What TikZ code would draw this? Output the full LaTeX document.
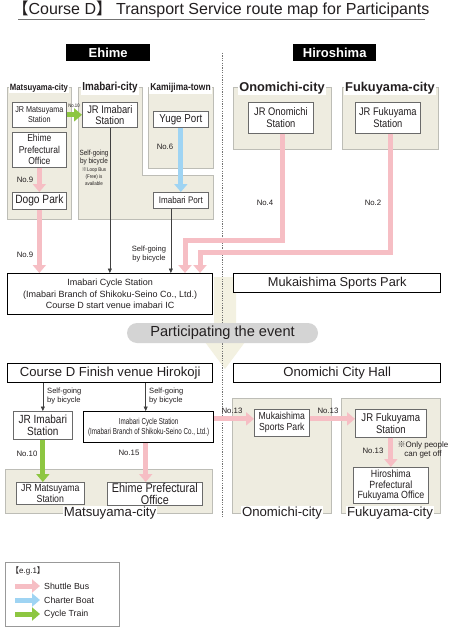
\documentclass[tikz,border=0pt]{standalone}
\usepackage{fontspec}
\setmainfont[FakeStretch=0.85]{Liberation Sans}
\newfontfamily\xcond[FakeStretch=0.72]{Liberation Sans}
\newfontfamily\wide{Liberation Sans}
\newfontfamily\cjk{Noto Sans CJK JP}
\usetikzlibrary{arrows.meta}
\definecolor{beige}{HTML}{EEECE0}
\definecolor{grpline}{HTML}{BDBDB6}
\definecolor{pinkc}{HTML}{F6BEC4}
\definecolor{bluec}{HTML}{9FD4F3}
\definecolor{greenc}{HTML}{8DC641}
\definecolor{boxline}{HTML}{6A6A6A}
\definecolor{pale}{HTML}{F3F1E1}
\definecolor{pillc}{HTML}{D4D4D4}
\definecolor{txt}{HTML}{231F20}
\begin{document}
\begin{tikzpicture}[x=1pt,y=-1pt,
  every node/.style={text=txt},
  box/.style={draw=boxline, fill=white, line width=0.7pt, align=center, inner sep=1pt, anchor=north west},
  mainbox/.style={draw=black, fill=white, line width=1.4pt, align=center, inner sep=1pt, anchor=north west},
  grp/.style={fill=beige, draw=grpline, line width=0.9pt},
  glabel/.style={fill=white, inner sep=1.2pt, font=\bfseries\fontsize{#1}{#1}\selectfont},
  glabel/.default=10,
  wlabel/.style={fill=white, inner sep=1.2pt, font=\wide\bfseries\fontsize{#1}{#1}\selectfont},
  blabel/.style={fill=white, inner sep=1.2pt, font=\wide\fontsize{#1}{#1}\selectfont},
  lbl/.style={inner sep=0pt, font=\wide\fontsize{7.8}{8}\selectfont},
  small/.style={inner sep=0pt, align=center, font=\wide\fontsize{7.6}{8.4}\selectfont},
  pinkarrow/.style={draw=pinkc, line width=5pt, -{Triangle[width=13pt,length=8pt]}},
  bluearrow/.style={draw=bluec, line width=5pt, -{Triangle[width=13pt,length=8pt]}},
  greenarrow/.style={draw=greenc, line width=5pt, -{Triangle[width=13pt,length=8pt]}},
  thinarrow/.style={draw=black!75, line width=0.6pt, -{Triangle[width=4pt,length=4.5pt]}},
  header/.style={fill=black, inner sep=0pt, text=white, font=\wide\bfseries\fontsize{13}{13}\selectfont, anchor=north west}
]
\path[fill=white] (0,0) rectangle (450,634);
\useasboundingbox (0,0) rectangle (450,634);

% title
\node[inner sep=0pt, font=\wide\fontsize{16}{17}\selectfont] (title) at (221,9) {{\cjk 【}Course D{\cjk 】}\hspace{4pt}Transport Service route map for Participants};
\draw[draw=black!55, line width=0.8pt] (18,19.5) -- (425,19.5);

% headers
\node[header, minimum width=84pt, minimum height=17pt] (ehime) at (66,44) {Ehime};
\node[header, minimum width=83pt, minimum height=17pt] (hiro) at (293,44) {Hiroshima};

% pale big arrow
\path[fill=pale] (214,277) -- (236,277) -- (236,338) -- (248,338) -- (225,369) -- (202,338) -- (214,338) -- cycle;

% dotted divider
\draw[draw=black!55, line width=1pt, dash pattern=on 1.2pt off 1.2pt] (222.5,53) -- (222.5,518);

% ---------- top groups ----------
\draw[grp] (7,87) rectangle (71,219);
\node[glabel=9.1] (gmat) at (39,88) {Matsuyama-city};
\draw[grp] (78,87) -- (142,87) -- (142,175) -- (213,175) -- (213,219) -- (78,219) -- cycle;
\node[glabel=11.6] (gima) at (110,88) {Imabari-city};
\draw[grp] (148,87) rectangle (213,168);
\node[glabel=10] (gkam) at (180.5,88) {Kamijima-town};
\draw[grp] (233,87) rectangle (331,149);
\node[wlabel=12.8] (gono) at (282,88) {Onomichi-city};
\draw[grp] (342,87) rectangle (438,149);
\node[wlabel=12.8] (gfuk) at (390,88) {Fukuyama-city};

% top boxes
\node[box, minimum width=54pt, minimum height=25pt, font=\fontsize{8.5}{10}\selectfont] (jrm) at (12,102) {JR Matsuyama\\Station};
\node[box, minimum width=54pt, minimum height=35pt, font=\fontsize{10}{11.5}\selectfont] (epo) at (12,132) {Ehime\\Prefectural\\Office};
\node[box, minimum width=54pt, minimum height=17pt, font=\fontsize{12}{12}\selectfont] (dogo) at (12,192) {Dogo Park};
\node[box, minimum width=55pt, minimum height=25pt, font=\fontsize{11}{11.5}\selectfont] (jri) at (82,102) {JR Imabari\\Station};
\node[box, minimum width=55pt, minimum height=16pt, font=\fontsize{11.5}{12}\selectfont] (yuge) at (153,111) {Yuge Port};
\node[box, minimum width=55pt, minimum height=16pt, font=\fontsize{9.5}{10}\selectfont] (iport) at (153,192) {Imabari Port};
\node[box, minimum width=65pt, minimum height=31pt, font=\fontsize{11}{12}\selectfont] (ono) at (248,102) {JR Onomichi\\Station};
\node[box, minimum width=65pt, minimum height=31pt, font=\fontsize{11}{12}\selectfont] (fuk) at (355,102) {JR Fukuyama\\Station};

% main boxes
\node[mainbox, minimum width=205pt, minimum height=41pt, font=\wide\fontsize{9}{11.5}\selectfont] (cycle) at (7,273) {Imabari Cycle Station\\(Imabari Branch of Shikoku-Seino Co., Ltd.)\\Course D start venue imabari IC};
\node[mainbox, minimum width=207pt, minimum height=19pt, font=\wide\fontsize{12.8}{13}\selectfont] (muk) at (233,273) {Mukaishima Sports Park};

% top connectors
\draw[greenarrow] (jrm.east) -- (jri.west);
\node[inner sep=0pt, font=\fontsize{5}{5}\selectfont] (l10a) at (74,106) {No.10};
\draw[pinkarrow] (epo.south) -- (dogo.north);
\node[lbl] (l9a) at (25,180) {No.9};
\draw[pinkarrow] (dogo.south) -- (dogo.south |- cycle.north);
\node[lbl] (l9b) at (25,255) {No.9};
\draw[thinarrow] (jri.south) -- (jri.south |- cycle.north);
\node[small, font=\fontsize{7.5}{8.5}\selectfont] (sg1) at (94,157.5) {Self-going\\by bicycle};
\node[inner sep=0pt, align=center, font=\fontsize{5.3}{7}\selectfont] (loop) at (94,177) {{\cjk ※}Loop Bus\\(Free) is\\available};
\draw[bluearrow] (yuge.south) -- (iport.north);
\node[lbl] (l6) at (165,147) {No.6};
\draw[thinarrow] ([xshift=-10pt]iport.south) -- ([xshift=-10pt]iport.south |- cycle.north);
\node[small] (sg2) at (149,254) {Self-going\\by bicycle};
\coordinate (c1) at (185,240);
\coordinate (c2) at (200,252);
\draw[pinkarrow, line join=miter] ([xshift=1.5pt]ono.south) |- (c1) -- (c1 |- cycle.north);
\draw[pinkarrow, line join=miter] ([xshift=2.5pt]fuk.south) |- (c2) -- (c2 |- cycle.north);
\node[lbl] (l4) at (265,203) {No.4};
\node[lbl] (l2) at (373,203) {No.2};

% participating
\node[fill=pillc, rounded corners=10pt, minimum width=191pt, minimum height=20pt, inner sep=0pt, font=\wide\fontsize{14.6}{15}\selectfont] (part) at (222.5,333) {Participating the event};

% finish boxes
\node[mainbox, minimum width=205pt, minimum height=19pt, font=\wide\fontsize{13.1}{13}\selectfont] (fin) at (7,363) {Course D Finish venue Hirokoji};
\node[mainbox, minimum width=207pt, minimum height=19pt, font=\wide\fontsize{13.1}{13}\selectfont] (och) at (233,363) {Onomichi City Hall};

% ---------- bottom groups ----------
\draw[grp] (5,469) rectangle (212,513);
\node[blabel=13.2] (gmat2) at (110,513) {Matsuyama-city};
\draw[grp] (232,398) rectangle (331,513);
\node[blabel=13.2] (gono2) at (282,513) {Onomichi-city};
\draw[grp] (341,398) rectangle (440,513);
\node[blabel=13.2] (gfuk2) at (390,513) {Fukuyama-city};

% bottom boxes
\node[box, minimum width=59pt, minimum height=28pt, font=\fontsize{11.8}{12.5}\selectfont] (jri2) at (13,411) {JR Imabari\\Station};
\node[mainbox, minimum width=130pt, minimum height=31pt, font=\xcond\fontsize{8.7}{10.5}\selectfont] (cyc2) at (83,411) {Imabari Cycle Station\\(Imabari Branch of Shikoku-Seino Co., Ltd.)};
\node[box, minimum width=68pt, minimum height=22pt, font=\fontsize{10.3}{10.5}\selectfont] (jmat2) at (16,482) {JR Matsuyama\\Station};
\node[box, minimum width=95pt, minimum height=22pt, font=\fontsize{12.7}{11.5}\selectfont] (epo2) at (107,482) {Ehime Prefectural\\Office};
\node[box, minimum width=55pt, minimum height=27pt, font=\fontsize{10.2}{11}\selectfont] (muk2) at (254,409) {Mukaishima\\Sports Park};
\node[box, minimum width=71pt, minimum height=28pt, font=\fontsize{11.2}{12.5}\selectfont] (fuk2) at (355,409) {JR Fukuyama\\Station};
\node[box, minimum width=75pt, minimum height=36pt, font=\fontsize{10.4}{10.8}\selectfont] (hpo) at (353,467) {Hiroshima\\Prefectural\\Fukuyama Office};

% bottom connectors
\draw[thinarrow] (jri2.north |- fin.south) -- (jri2.north);
\node[small, anchor=west, align=left] (sg3) at (47,396) {Self-going\\by bicycle};
\draw[thinarrow] ([xshift=-3pt]cyc2.north |- fin.south) -- ([xshift=-3pt]cyc2.north);
\node[small, anchor=west, align=left] (sg4) at (149,396) {Self-going\\by bicycle};
\draw[greenarrow] (jri2.south) -- (jri2.south |- jmat2.north);
\node[lbl] (l10b) at (27,454) {No.10};
\draw[pinkarrow] ([xshift=-3pt]cyc2.south) -- ([xshift=-3pt]cyc2.south |- epo2.north);
\node[lbl] (l15) at (129,453) {No.15};
\draw[pinkarrow] ([yshift=4pt]muk2.west -| cyc2.east) -- ([yshift=4pt]muk2.west);
\node[lbl] (l13a) at (232,411) {No.13};
\draw[pinkarrow] ([yshift=4pt]muk2.east) -- ([yshift=4pt]muk2.east -| fuk2.west);
\node[lbl] (l13b) at (328,411) {No.13};
\draw[pinkarrow] (fuk2.south) -- (hpo.north);
\node[lbl] (l13c) at (373,451) {No.13};
\node[small, font=\wide\fontsize{8}{9}\selectfont] (note) at (423,449.5) {{\cjk ※}Only people\\can get off};

% legend
\draw[draw=black!40, line width=0.6pt, fill=white] (5,562) rectangle (119,626);
\node[inner sep=0pt, anchor=west, font=\wide\fontsize{8}{8}\selectfont] (eg) at (11,571) {{\cjk 【}e.g.1{\cjk 】}};
\coordinate (lp1) at (15,586);
\coordinate (lp2) at (40,586);
\coordinate (lb1) at (15,600);
\coordinate (lb2) at (40,600);
\coordinate (lg1) at (15,614);
\coordinate (lg2) at (40,614);
\draw[pinkarrow] (lp1) -- (lp2);
\draw[bluearrow] (lb1) -- (lb2);
\draw[greenarrow] (lg1) -- (lg2);
\node[inner sep=0pt, anchor=west, font=\wide\fontsize{8.8}{9}\selectfont] (t1) at (44,586) {Shuttle Bus};
\node[inner sep=0pt, anchor=west, font=\wide\fontsize{8.8}{9}\selectfont] (t2) at (44,600) {Charter Boat};
\node[inner sep=0pt, anchor=west, font=\wide\fontsize{8.8}{9}\selectfont] (t3) at (44,614) {Cycle Train};
\end{tikzpicture}
\end{document}
